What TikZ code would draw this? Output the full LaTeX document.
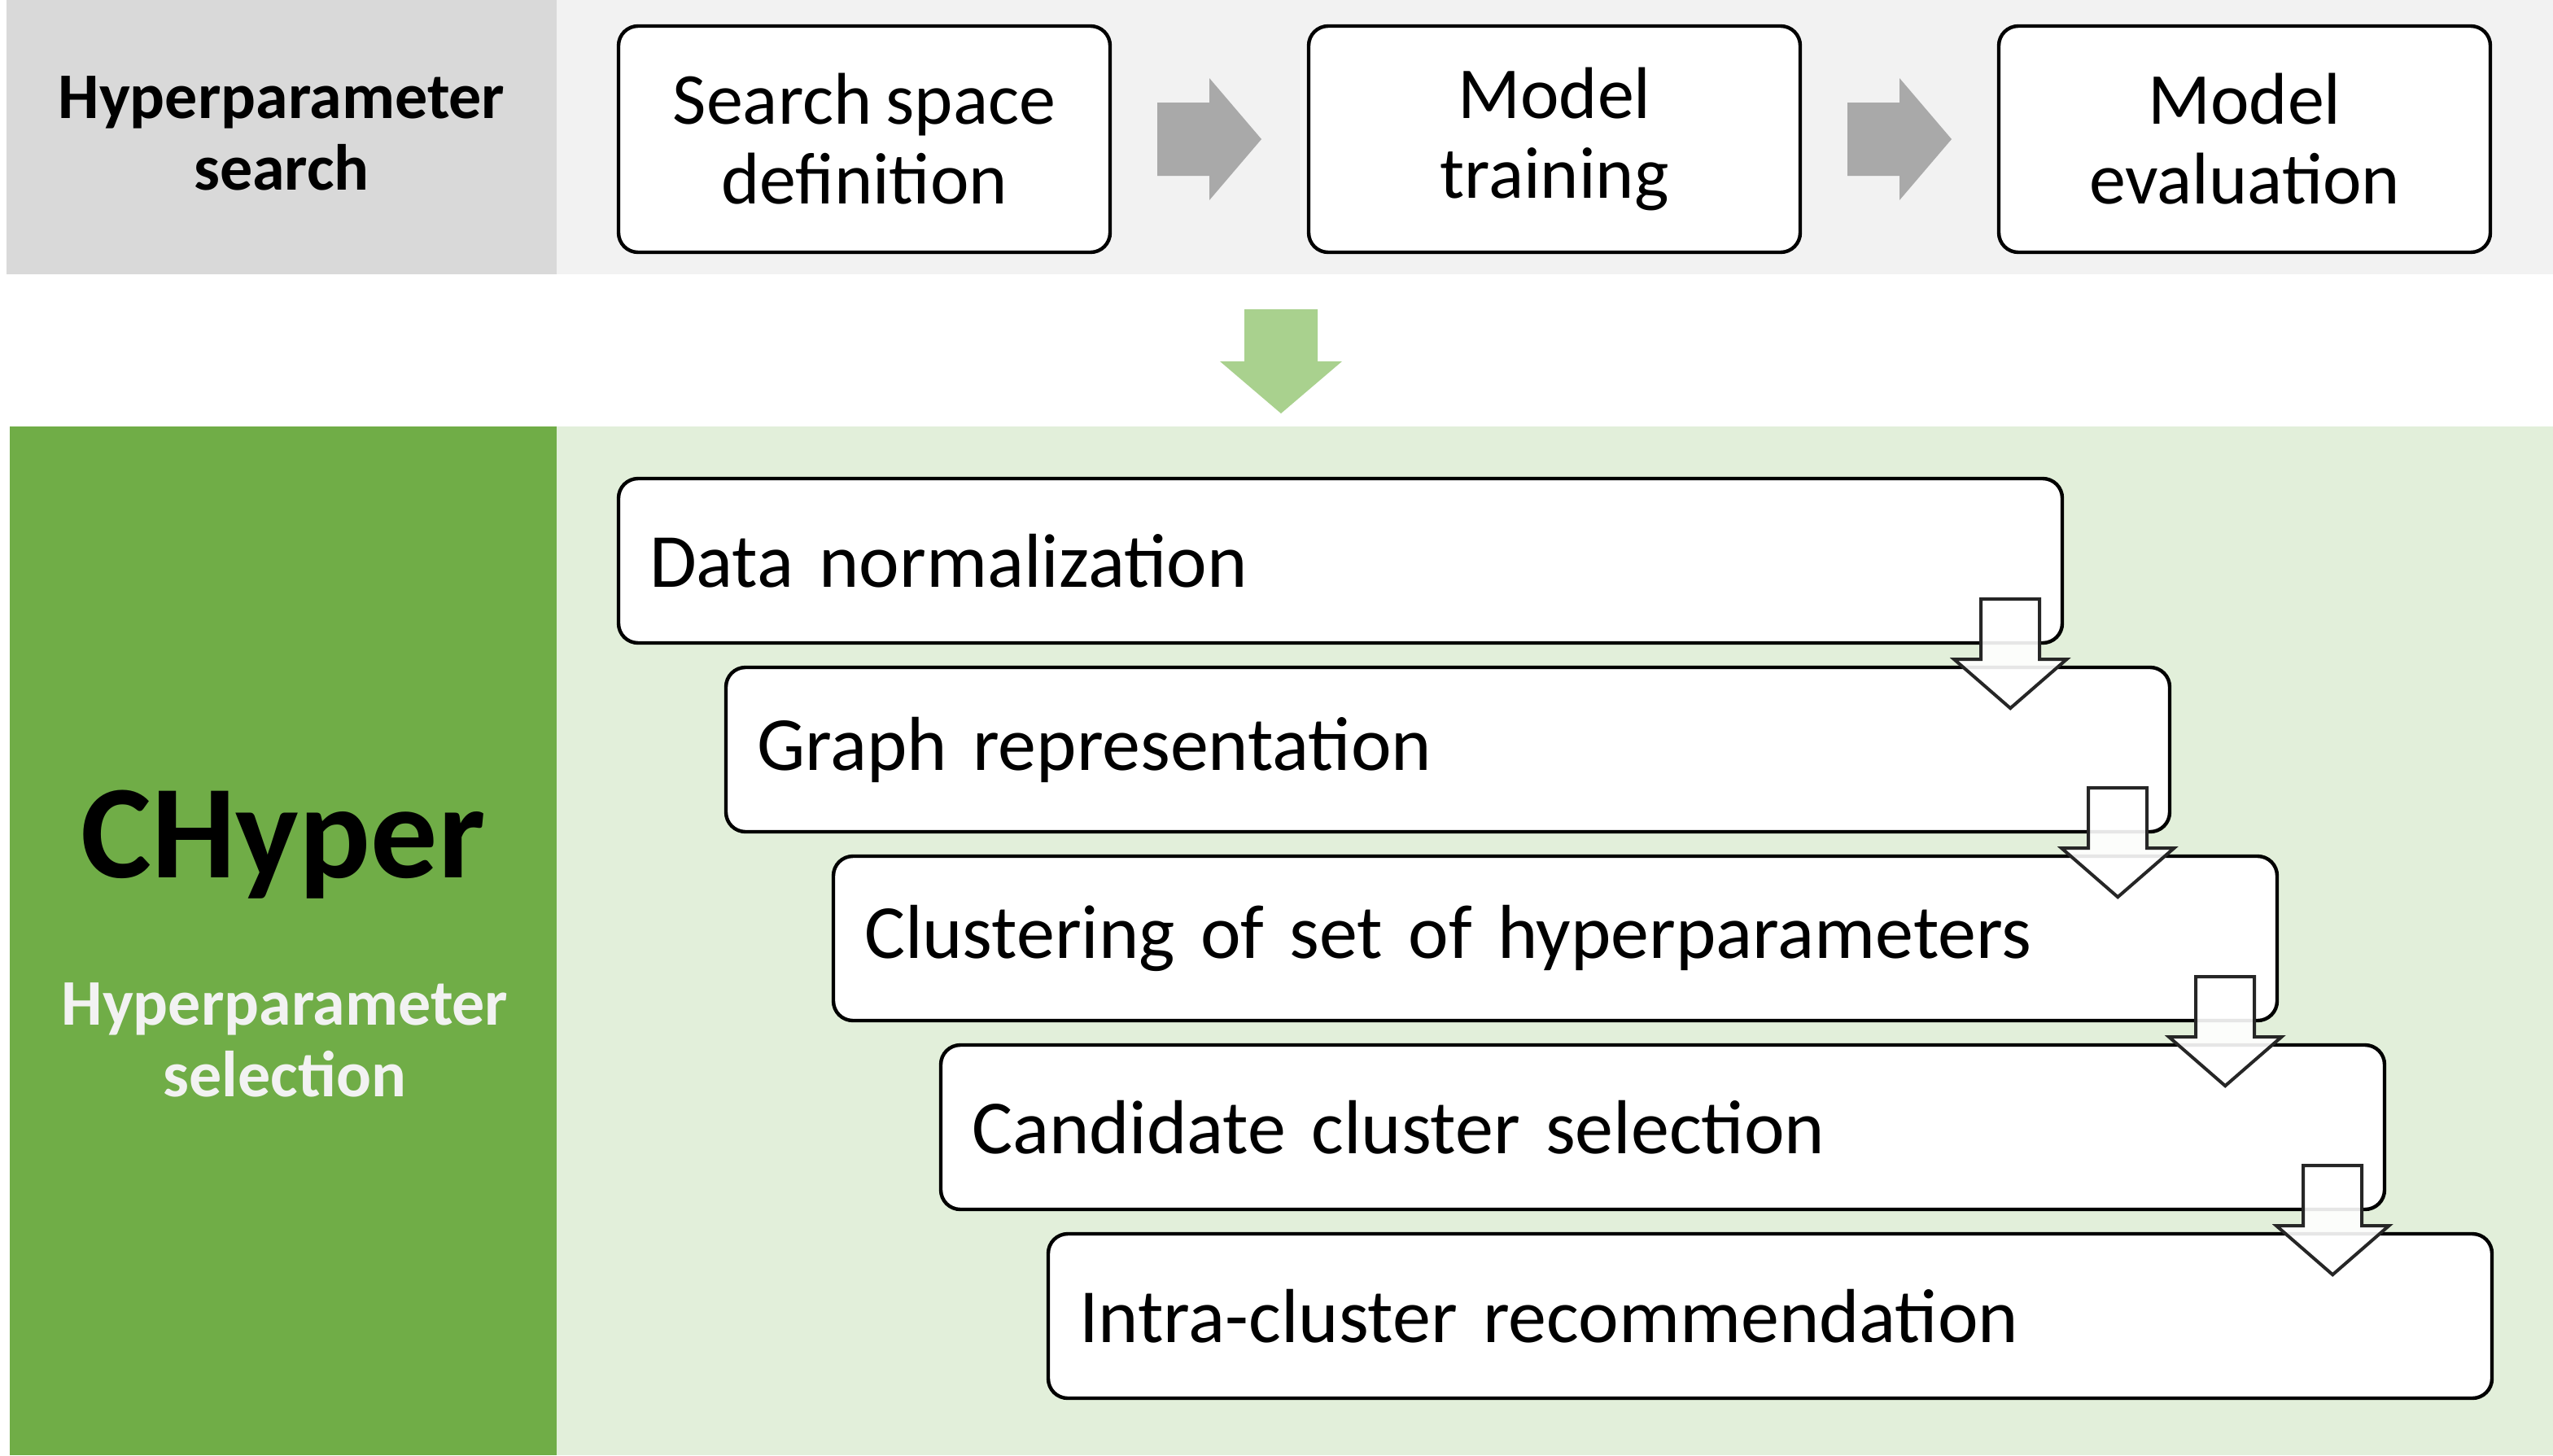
\documentclass[tikz,border=0pt]{standalone}
\usepackage{fontspec}
\setmainfont{Carlito}[WordSpace=0.85]
\usetikzlibrary{calc}

\definecolor{bandgray}{HTML}{F2F2F2}
\definecolor{labelgray}{HTML}{D9D9D9}
\definecolor{flowgray}{HTML}{A9A9A9}
\definecolor{flowgreen}{HTML}{A9D18E}
\definecolor{darkgreen}{HTML}{70AD47}
\definecolor{palegreen}{HTML}{E2EFDA}
\definecolor{edgegray}{HTML}{262626}

\begin{document}
\begin{tikzpicture}[
                    x=0.5pt,
                    y=-0.5pt,
                    node distance=212pt,
                    semithick,
                    stagebox/.style={draw, line width=1.1pt, rounded corners=6pt, fill=white,
                        minimum width=151pt, minimum height=69.5pt, align=center,
                        font=\fontsize{22.5}{24.5}\selectfont},
                    stepbox/.style={draw, line width=1.1pt, rounded corners=6pt, fill=white,
                        minimum width=443.5pt, minimum height=50.5pt, inner xsep=9.5pt,
                        text width=424.5pt, align=left, font=\fontsize{23.5}{26}\selectfont},
                    sidelabel/.style={align=center, font=\fontsize{20}{22}\selectfont\bfseries},
                    stepflow/.style={draw=edgegray, line width=1pt, fill=white, fill opacity=0.9}
                ]
                \useasboundingbox (0,0) rectangle (1568.5,894);

                % backgrounds
                \fill[bandgray] (4,0) rectangle (1568.5,168.5);
                \fill[labelgray] (4,0) rectangle (342,168.5);
                \fill[palegreen] (6,262) rectangle (1568.5,894);
                \fill[darkgreen] (6,262) rectangle (342,894);

                % hyperparameter search
                \node (hs) [sidelabel] at (173,82) {Hyperparameter\\search};
                \node (t1) [stagebox] at (531,85.5) {Search space\\definition};
                \node (t2) [stagebox, right of=t1] {Model\\training};
                \node (t3) [stagebox, right of=t2] {Model\\evaluation};

                \path (t1.east) -- (t2.west) coordinate[midway] (m1);
                \path (t2.east) -- (t3.west) coordinate[midway] (m2);
                \fill[flowgray] ($(m1)+(-32,0)$) +(0,-22.5) -- +(32,-22.5) -- +(32,-37.5) -- +(64,0)
                    -- +(32,37.5) -- +(32,22.5) -- +(0,22.5) -- cycle;
                \fill[flowgray] ($(m2)+(-32,0)$) +(0,-22.5) -- +(32,-22.5) -- +(32,-37.5) -- +(64,0)
                    -- +(32,37.5) -- +(32,22.5) -- +(0,22.5) -- cycle;

                % into chyper
                \coordinate (g1) at (787,190);
                \fill[flowgreen] (g1) +(-22.5,0) -- +(22.5,0) -- +(22.5,32) -- +(37.5,32) -- +(0,64)
                    -- +(-37.5,32) -- +(-22.5,32) -- cycle;

                % chyper
                \node (ch) [font=\fontsize{41}{45}\selectfont\bfseries] at (174,519) {CHyper};
                \node (hsel) [sidelabel, text=bandgray] at (175,639) {Hyperparameter\\selection};

                \node (d1) [stepbox] at (823.5,344.5) {Data normalization};
                \node (d2) [stepbox, below of=d1, node distance=58pt, xshift=33pt] {Graph representation};
                \node (d3) [stepbox, below of=d2, node distance=58pt, xshift=33pt] {Clustering of set of hyperparameters};
                \node (d4) [stepbox, below of=d3, node distance=58pt, xshift=33pt] {Candidate cluster selection};
                \node (d5) [stepbox, below of=d4, node distance=58pt, xshift=33pt] {Intra-cluster recommendation};

                \draw[stepflow] ($(d1.south east)+(-33,-28)$) +(-18,0) -- +(18,0) -- +(18,37) -- +(34.5,37)
                    -- +(0,67) -- +(-34.5,37) -- +(-18,37) -- cycle;
                \draw[stepflow] ($(d2.south east)+(-33,-28)$) +(-18,0) -- +(18,0) -- +(18,37) -- +(34.5,37)
                    -- +(0,67) -- +(-34.5,37) -- +(-18,37) -- cycle;
                \draw[stepflow] ($(d3.south east)+(-33,-28)$) +(-18,0) -- +(18,0) -- +(18,37) -- +(34.5,37)
                    -- +(0,67) -- +(-34.5,37) -- +(-18,37) -- cycle;
                \draw[stepflow] ($(d4.south east)+(-33,-28)$) +(-18,0) -- +(18,0) -- +(18,37) -- +(34.5,37)
                    -- +(0,67) -- +(-34.5,37) -- +(-18,37) -- cycle;
            \end{tikzpicture}
\end{document}
